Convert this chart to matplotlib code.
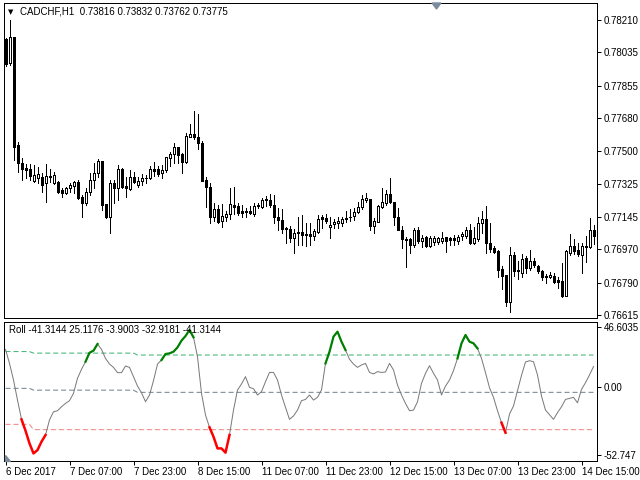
import matplotlib
matplotlib.use('Agg')
import matplotlib.pyplot as plt
from matplotlib.patches import Polygon
import numpy as np

# CADCHF H1 candles, 6 Dec 15:00 .. 14 Dec 18:00 (weekend skipped)
opens = [0.78107, 0.77977, 0.78118, 0.77534, 0.77437, 0.77410, 0.77404, 0.77339, 0.77356, 0.77361, 0.77328, 0.77366,
         0.77328, 0.77334, 0.77291, 0.77274, 0.77301, 0.77312, 0.77334, 0.77253, 0.77220, 0.77280, 0.77345, 0.77383,
         0.77447, 0.77215, 0.77145, 0.77328, 0.77301, 0.77404, 0.77312, 0.77296, 0.77361, 0.77318, 0.77339, 0.77356,
         0.77356, 0.77404, 0.77404, 0.77383, 0.77399, 0.77464, 0.77485, 0.77523, 0.77485, 0.77442, 0.77577, 0.77593,
         0.77577, 0.77545, 0.77345, 0.77307, 0.77145, 0.77188, 0.77123, 0.77145, 0.77161, 0.77210, 0.77204, 0.77177,
         0.77177, 0.77177, 0.77161, 0.77204, 0.77199, 0.77237, 0.77237, 0.77210, 0.77145, 0.77128, 0.77085, 0.77080,
         0.77031, 0.77058, 0.77064, 0.77053, 0.77053, 0.77042, 0.77064, 0.77145, 0.77139, 0.77091, 0.77107, 0.77112,
         0.77112, 0.77134, 0.77145, 0.77150, 0.77172, 0.77199, 0.77237, 0.77242, 0.77096, 0.77118, 0.77199, 0.77220,
         0.77269, 0.77226, 0.77145, 0.77074, 0.77026, 0.77026, 0.76993, 0.77074, 0.77015, 0.77037, 0.76988, 0.77010,
         0.77010, 0.77015, 0.77037, 0.77031, 0.77031, 0.77015, 0.77042, 0.77042, 0.77074, 0.77004, 0.77026, 0.77112,
         0.77134, 0.77004, 0.76977, 0.76961, 0.76864, 0.76831, 0.76685, 0.76939, 0.76858, 0.76842, 0.76923, 0.76869,
         0.76907, 0.76880, 0.76853, 0.76826, 0.76820, 0.76826, 0.76804, 0.76799, 0.76718, 0.76950, 0.76988, 0.76966,
         0.76939, 0.76982, 0.76982, 0.77074]
highs = [0.78112, 0.78210, 0.78118, 0.77550, 0.77464, 0.77431, 0.77431, 0.77426, 0.77415, 0.77383, 0.77431, 0.77404,
         0.77388, 0.77339, 0.77301, 0.77307, 0.77328, 0.77339, 0.77345, 0.77264, 0.77301, 0.77383, 0.77437, 0.77458,
         0.77447, 0.77215, 0.77345, 0.77345, 0.77426, 0.77410, 0.77361, 0.77399, 0.77388, 0.77361, 0.77377, 0.77372,
         0.77420, 0.77442, 0.77420, 0.77426, 0.77469, 0.77496, 0.77545, 0.77523, 0.77491, 0.77599, 0.77648, 0.77718,
         0.77702, 0.77556, 0.77361, 0.77328, 0.77220, 0.77210, 0.77215, 0.77177, 0.77301, 0.77307, 0.77220, 0.77210,
         0.77193, 0.77204, 0.77220, 0.77220, 0.77247, 0.77258, 0.77269, 0.77264, 0.77193, 0.77188, 0.77091, 0.77096,
         0.77080, 0.77145, 0.77155, 0.77112, 0.77112, 0.77080, 0.77155, 0.77155, 0.77161, 0.77145, 0.77134, 0.77145,
         0.77145, 0.77177, 0.77188, 0.77193, 0.77226, 0.77264, 0.77274, 0.77242, 0.77139, 0.77210, 0.77301, 0.77291,
         0.77356, 0.77226, 0.77193, 0.77096, 0.77037, 0.77031, 0.77085, 0.77091, 0.77047, 0.77042, 0.77042, 0.77042,
         0.77037, 0.77064, 0.77037, 0.77037, 0.77047, 0.77047, 0.77064, 0.77091, 0.77107, 0.77091, 0.77145, 0.77177,
         0.77204, 0.77112, 0.76988, 0.76966, 0.76880, 0.76831, 0.76982, 0.76955, 0.76907, 0.76945, 0.76934, 0.76966,
         0.76923, 0.76885, 0.76858, 0.76836, 0.76847, 0.76842, 0.76820, 0.76896, 0.76966, 0.77053, 0.77026, 0.77004,
         0.77004, 0.77042, 0.77139, 0.77101]
lows = [0.77961, 0.77967, 0.77453, 0.77388, 0.77345, 0.77356, 0.77345, 0.77334, 0.77328, 0.77280, 0.77226, 0.77334,
        0.77323, 0.77274, 0.77253, 0.77269, 0.77280, 0.77274, 0.77242, 0.77145, 0.77210, 0.77264, 0.77301, 0.77361,
        0.77183, 0.77139, 0.77058, 0.77220, 0.77237, 0.77301, 0.77253, 0.77291, 0.77328, 0.77307, 0.77318, 0.77328,
        0.77350, 0.77366, 0.77366, 0.77356, 0.77388, 0.77420, 0.77437, 0.77437, 0.77383, 0.77437, 0.77577, 0.77566,
        0.77512, 0.77339, 0.77199, 0.77112, 0.77123, 0.77112, 0.77091, 0.77123, 0.77134, 0.77161, 0.77155, 0.77145,
        0.77145, 0.77161, 0.77150, 0.77193, 0.77193, 0.77204, 0.77199, 0.77112, 0.77074, 0.77058, 0.77004, 0.77010,
        0.76950, 0.76993, 0.76993, 0.76988, 0.76993, 0.77020, 0.77058, 0.77085, 0.77112, 0.77031, 0.77085, 0.77085,
        0.77096, 0.77118, 0.77123, 0.77128, 0.77166, 0.77188, 0.77226, 0.77074, 0.77058, 0.77118, 0.77193, 0.77210,
        0.77220, 0.77101, 0.77074, 0.76977, 0.76874, 0.76950, 0.76982, 0.77004, 0.76982, 0.76982, 0.76982, 0.76993,
        0.76999, 0.77004, 0.76955, 0.76993, 0.76993, 0.76999, 0.77020, 0.77031, 0.76999, 0.76999, 0.77015, 0.77058,
        0.76950, 0.76955, 0.76950, 0.76820, 0.76755, 0.76663, 0.76631, 0.76826, 0.76809, 0.76820, 0.76842, 0.76858,
        0.76874, 0.76842, 0.76804, 0.76788, 0.76815, 0.76788, 0.76761, 0.76712, 0.76718, 0.76939, 0.76945, 0.76934,
        0.76842, 0.76901, 0.76977, 0.76999]
closes = [0.77972, 0.78118, 0.77523, 0.77437, 0.77404, 0.77399, 0.77366, 0.77372, 0.77377, 0.77318, 0.77366, 0.77361,
          0.77372, 0.77280, 0.77274, 0.77301, 0.77318, 0.77334, 0.77247, 0.77220, 0.77280, 0.77345, 0.77383, 0.77447,
          0.77210, 0.77145, 0.77328, 0.77301, 0.77404, 0.77307, 0.77301, 0.77361, 0.77334, 0.77339, 0.77356, 0.77354,
          0.77404, 0.77393, 0.77377, 0.77399, 0.77469, 0.77485, 0.77523, 0.77480, 0.77442, 0.77583, 0.77593, 0.77577,
          0.77545, 0.77339, 0.77307, 0.77145, 0.77188, 0.77118, 0.77150, 0.77161, 0.77215, 0.77199, 0.77166, 0.77166,
          0.77172, 0.77166, 0.77204, 0.77210, 0.77237, 0.77240, 0.77210, 0.77145, 0.77128, 0.77080, 0.77080, 0.77031,
          0.77058, 0.77064, 0.77047, 0.77050, 0.77042, 0.77069, 0.77134, 0.77134, 0.77123, 0.77101, 0.77118, 0.77123,
          0.77134, 0.77139, 0.77143, 0.77172, 0.77199, 0.77242, 0.77247, 0.77096, 0.77123, 0.77204, 0.77226, 0.77269,
          0.77226, 0.77145, 0.77074, 0.77026, 0.77023, 0.76993, 0.77074, 0.77015, 0.77031, 0.76988, 0.77031, 0.77031,
          0.77031, 0.77031, 0.77015, 0.77020, 0.77020, 0.77037, 0.77053, 0.77074, 0.77004, 0.77031, 0.77112, 0.77134,
          0.77004, 0.76972, 0.76955, 0.76858, 0.76826, 0.76685, 0.76939, 0.76853, 0.76855, 0.76918, 0.76869, 0.76907,
          0.76885, 0.76853, 0.76820, 0.76820, 0.76831, 0.76793, 0.76793, 0.76718, 0.76961, 0.76988, 0.76961, 0.76945,
          0.76988, 0.76988, 0.77074, 0.77042]

# Roll indicator, one value per bar
roll = [29.5, 18.6, 5.7, -9.9, -24.9, -33.7, -43.6, -51.4, -48.8, -42.3, -37.1, -25.4,
        -19.0, -18.2, -15.1, -12.5, -10.4, -4.7, 7.0, 14.0, 19.9, 26.9, 28.5, 33.7,
        29.5, 22.5, 18.1, 15.5, 11.4, 11.4, 16.6, 15.5, 8.3, 1.0, -4.2, -11.2,
        -6.0, 5.2, 18.1, 21.2, 25.9, 26.4, 27.7, 31.1, 36.3, 39.9, 44.6, 38.9,
        23.8, -4.7, -21.5, -31.1, -38.4, -47.5, -47.5, -50.8, -37.1, -17.7, -2.1, 2.6,
        8.3, 0.0, -1.1, -6.0, -3.4, 4.4, 11.6, 11.6, 5.7, -6.0, -15.6, -24.9,
        -22.3, -17.7, -10.4, -9.4, -6.0, -9.9, -7.8, -2.1, 18.6, 27.7, 39.4, 43.3,
        35.5, 29.0, 21.8, 18.1, 15.5, 17.4, 18.6, 11.6, 10.4, 12.2, 11.6, 11.9,
        18.6, 13.5, 1.8, -6.0, -12.5, -18.2, -17.7, -11.2, 3.1, 10.9, 16.8, 10.9,
        5.7, -6.0, 1.0, 5.7, 13.0, 22.5, 34.2, 40.7, 35.5, 34.2, 30.3, 22.5,
        11.4, -0.3, -7.8, -18.2, -27.5, -35.3, -20.8, -14.5, -2.6, 9.3, 19.7, 20.7,
        19.9, 9.6, -6.8, -17.7, -21.3, -24.9, -19.7, -15.1, -9.4, -8.6, -7.8, -12.0,
        -1.6, 3.6, 9.6, 16.1]
green_runs = [(20, 23), (39, 47), (80, 85), (113, 118)]
red_runs = [(4, 10), (51, 56), (124, 125)]

# dynamic levels (bar, value)
level_x = [0, 6, 7, 32, 33, 147]
upper_lvl = [27.8, 27.8, 26.6, 26.6, 25.1176, 25.1176]
mid_lvl = [-0.8, -0.8, -2.2, -2.2, -3.9003, -3.9003]
lower_lvl = [-28.8, -28.8, -32.9181, -32.9181, -32.9181, -32.9181]

price_ticks = [0.78210, 0.78035, 0.77855, 0.77680, 0.77500, 0.77325, 0.77145, 0.76970, 0.76790, 0.76615]
time_pos = [0, 16, 32, 48, 64, 80, 96, 112, 128, 144]
time_labels = ['6 Dec 2017', '7 Dec 07:00', '7 Dec 23:00', '8 Dec 15:00', '11 Dec 07:00',
               '11 Dec 23:00', '12 Dec 15:00', '13 Dec 07:00', '13 Dec 23:00', '14 Dec 15:00']

plt.rcParams['font.family'] = ['Liberation Sans', 'DejaVu Sans']
plt.rcParams['font.size'] = 7
px = 0.72  # one pixel in points

fig = plt.figure(figsize=(6.4, 4.8), dpi=100)
W, H = 640.0, 480.0
ax = fig.add_axes([4 / W, 1 - 318 / H, 593 / W, 315 / H])
axi = fig.add_axes([4 / W, 1 - 461 / H, 593 / W, 139 / H])

## candles
o = np.array(opens); h = np.array(highs); l = np.array(lows); c = np.array(closes)
x = np.arange(len(o))
ax.vlines(x, l, h, color='black', linewidth=px, antialiased=False)
face = ['white' if cc >= oo else 'black' for oo, cc in zip(o, c)]
ax.bar(x, np.abs(c - o), bottom=np.minimum(o, c), width=0.5, color=face,
       edgecolor='black', linewidth=px, zorder=3, antialiased=False)

ax.set_xlim(-0.375, 147.875)
ax.set_ylim(0.76599, 0.78302)
ax.yaxis.tick_right()
ax.set_yticks(price_ticks)
ax.set_yticklabels(['%.5f' % p for p in price_ticks])
ax.set_xticks([])
ax.tick_params(axis='y', direction='out', length=3, width=px, pad=2, labelsize=7)

## indicator
axi.plot(x, roll, color='#7a7a7a', linewidth=px, zorder=3)
for a, b in green_runs:
    axi.plot(x[a:b + 1], roll[a:b + 1], color='#008000', linewidth=1.6, zorder=4)
for a, b in red_runs:
    axi.plot(x[a:b + 1], roll[a:b + 1], color='#ff0000', linewidth=1.8, zorder=4)
axi.plot(level_x, upper_lvl, color='#3cb371', linewidth=px, dashes=(5, 3))
axi.plot(level_x, mid_lvl, color='#708090', linewidth=px, dashes=(5, 3))
axi.plot(level_x, lower_lvl, color='#f08080', linewidth=px, dashes=(5, 3))

axi.set_xlim(-0.375, 147.875)
axi.set_ylim(-57.3, 50.8)
axi.yaxis.tick_right()
axi.set_yticks([46.6035, 0.0, -52.747])
axi.set_yticklabels(['46.6035', '0.00', '-52.747'])
axi.set_xticks(time_pos)
axi.set_xticklabels(time_labels)
for t in axi.get_xticklabels():
    t.set_ha('left')
axi.tick_params(axis='y', direction='out', length=3, width=px, pad=2, labelsize=7)
axi.tick_params(axis='x', direction='out', length=3, width=px, pad=1, labelsize=7)

for a_ in (ax, axi):
    for s in a_.spines.values():
        s.set_linewidth(px)
        s.set_color('black')

## header texts
fig.text(8 / W, 1 - 12 / H, '\u25bc', fontsize=5, family='DejaVu Sans', va='center')
fig.text(20 / W, 1 - 12 / H, 'CADCHF,H1  0.73816 0.73832 0.73762 0.73775', va='center')
fig.text(9 / W, 1 - 330 / H, 'Roll -41.3144 25.1176 -3.9003 -32.9181 -41.3144', va='center')

# chart shift marker on top
fig.patches.append(Polygon([(432 / W, 1 - 3 / H), (441 / W, 1 - 3 / H), (436.5 / W, 1 - 9 / H)],
                           closed=True, transform=fig.transFigure, color='#7b8b9b'))
# small corner triangle of the subwindow
fig.patches.append(Polygon([(4.5 / W, 1 - 455 / H), (4.5 / W, 1 - 460.5 / H), (10 / W, 1 - 460.5 / H)],
                           closed=True, transform=fig.transFigure, color='#7b8b9b'))

plt.savefig('out.png', dpi=100)
